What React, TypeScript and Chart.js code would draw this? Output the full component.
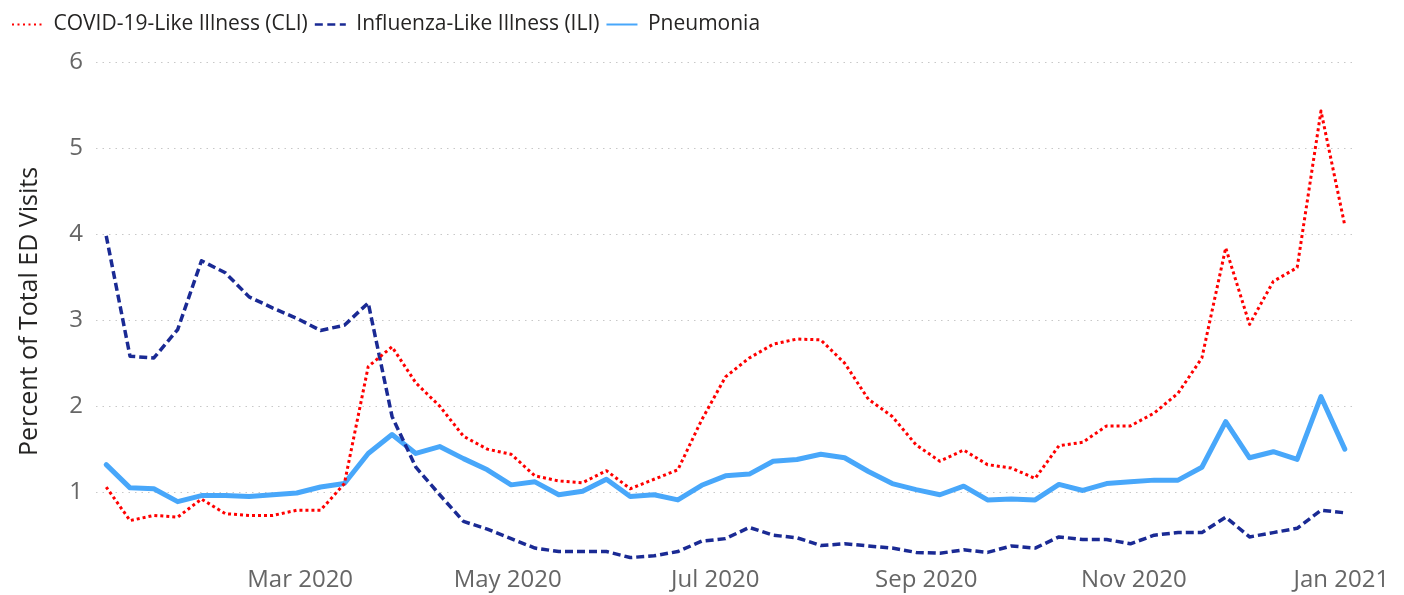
import React, { useEffect, useRef } from "react";
import { Chart, registerables } from "chart.js";

Chart.register(...registerables);

const weekEnding: string[] = [
  "2020-01-04", "2020-01-11", "2020-01-18", "2020-01-25", "2020-02-01", "2020-02-08", "2020-02-15", "2020-02-22",
  "2020-02-29", "2020-03-07", "2020-03-14", "2020-03-21", "2020-03-28", "2020-04-04", "2020-04-11", "2020-04-18",
  "2020-04-25", "2020-05-02", "2020-05-09", "2020-05-16", "2020-05-23", "2020-05-30", "2020-06-06", "2020-06-13",
  "2020-06-20", "2020-06-27", "2020-07-04", "2020-07-11", "2020-07-18", "2020-07-25", "2020-08-01", "2020-08-08",
  "2020-08-15", "2020-08-22", "2020-08-29", "2020-09-05", "2020-09-12", "2020-09-19", "2020-09-26", "2020-10-03",
  "2020-10-10", "2020-10-17", "2020-10-24", "2020-10-31", "2020-11-07", "2020-11-14", "2020-11-21", "2020-11-28",
  "2020-12-05", "2020-12-12", "2020-12-19", "2020-12-26", "2021-01-02",
];

const cliValues: number[] = [
  1.06, 0.67, 0.73, 0.71, 0.92, 0.75, 0.73, 0.73, 0.79, 0.79,
  1.10, 2.46, 2.69, 2.27, 2.00, 1.65, 1.50, 1.44, 1.19, 1.13,
  1.11, 1.25, 1.04, 1.15, 1.26, 1.84, 2.34, 2.56, 2.72, 2.78,
  2.77, 2.50, 2.08, 1.88, 1.55, 1.36, 1.49, 1.32, 1.28, 1.16,
  1.54, 1.58, 1.77, 1.77, 1.92, 2.15, 2.56, 3.84, 2.95, 3.45,
  3.61, 5.43, 4.10,
];

const iliValues: number[] = [
  3.98, 2.58, 2.56, 2.89, 3.69, 3.55, 3.27, 3.14, 3.02, 2.88,
  2.94, 3.20, 1.88, 1.29, 0.97, 0.66, 0.57, 0.46, 0.35, 0.31,
  0.31, 0.31, 0.24, 0.26, 0.31, 0.43, 0.46, 0.59, 0.50, 0.47,
  0.38, 0.40, 0.375, 0.35, 0.30, 0.29, 0.33, 0.30, 0.375, 0.35,
  0.48, 0.45, 0.45, 0.40, 0.50, 0.53, 0.53, 0.71, 0.48, 0.53,
  0.58, 0.79, 0.76,
];

const pneumoniaValues: number[] = [
  1.32, 1.05, 1.04, 0.89, 0.96, 0.96, 0.95, 0.97, 0.99, 1.06,
  1.10, 1.45, 1.67, 1.45, 1.53, 1.39, 1.26, 1.085, 1.12, 0.97,
  1.01, 1.15, 0.95, 0.97, 0.91, 1.08, 1.19, 1.21, 1.36, 1.38,
  1.44, 1.40, 1.24, 1.10, 1.03, 0.97, 1.07, 0.91, 0.92, 0.91,
  1.09, 1.02, 1.10, 1.12, 1.14, 1.14, 1.29, 1.82, 1.40, 1.47,
  1.38, 2.11, 1.50,
];

const seriesNames: string[] = ["COVID-19-Like Illness (CLI)", "Influenza-Like Illness (ILI)", "Pneumonia"];

const xTickDates: string[] = ["2020-03-01", "2020-05-01", "2020-07-01", "2020-09-01", "2020-11-01", "2021-01-01"];
const xTickLabels: string[] = ["Mar 2020", "May 2020", "Jul 2020", "Sep 2020", "Nov 2020", "Jan 2021"];
const yTickValues: number[] = [1, 2, 3, 4, 5, 6];

const DAY = 86400000;
const origin = Date.parse(weekEnding[0] + "T00:00:00Z");
const toDay = (d: string) => Math.round((Date.parse(d + "T00:00:00Z") - origin) / DAY);

const FONT = "'Open Sans', 'Noto Sans', sans-serif";

const legendGapPlugin = {
  id: "legendGap",
  afterInit(chart: any) {
    const lg = chart.legend;
    if (!lg || lg._gapPatched) return;
    const orig = lg.fit.bind(lg);
    lg.fit = function () {
      orig();
      this.height += 17;
    };
    lg._gapPatched = true;
  },
};

export default function App() {
  const ref = useRef<HTMLCanvasElement | null>(null);

  useEffect(() => {
    if (!ref.current) return;
    const mk = (vals: number[]) => vals.map((v, i) => ({ x: toDay(weekEnding[i]), y: v }));
    const legendDash = [[2, 3.5], [8, 4.5], []];
    const legendWidth = [2, 2.5, 2];

    const chart = new Chart(ref.current, {
      type: "line",
      plugins: [legendGapPlugin],
      data: {
        datasets: [
          {
            label: seriesNames[0],
            data: mk(cliValues),
            borderColor: "#FF0000",
            backgroundColor: "#FF0000",
            borderWidth: 3,
            borderDash: [3, 3],
            pointRadius: 0,
            tension: 0,
            borderJoinStyle: "round",
          },
          {
            label: seriesNames[1],
            data: mk(iliValues),
            borderColor: "#1A2A94",
            backgroundColor: "#1A2A94",
            borderWidth: 3.5,
            borderDash: [8, 4],
            pointRadius: 0,
            tension: 0,
            borderJoinStyle: "round",
          },
          {
            label: seriesNames[2],
            data: mk(pneumoniaValues),
            borderColor: "#48A7FA",
            backgroundColor: "#48A7FA",
            borderWidth: 5,
            pointRadius: 0,
            tension: 0,
            borderJoinStyle: "round",
            borderCapStyle: "round",
          },
        ],
      },
      options: {
        animation: false,
        responsive: false,
        events: [],
        layout: { padding: { left: 5, right: 49, top: 7, bottom: 0 } },
        plugins: {
          tooltip: { enabled: false },
          legend: {
            display: true,
            position: "top",
            align: "start",
            labels: {
              usePointStyle: true,
              pointStyle: "line",
              pointStyleWidth: 31,
              boxHeight: 21,
              padding: 7,
              color: "#252423",
              font: { family: FONT, size: 21 },
              generateLabels: (c: any) => {
                const items = (Chart.defaults.plugins.legend.labels as any).generateLabels(c);
                return items.map((it: any, i: number) => ({
                  ...it,
                  pointStyle: "line",
                  lineWidth: legendWidth[i],
                  lineDash: legendDash[i],
                  lineCap: "butt",
                  fontColor: "#252423",
                }));
              },
            },
          },
        },
        scales: {
          x: {
            type: "linear",
            min: -3,
            max: 367,
            grid: { display: false, drawTicks: false },
            border: { display: false },
            afterBuildTicks: (scale: any) => {
              scale.ticks = xTickDates.map((d) => ({ value: toDay(d) }));
            },
            afterFit: (scale: any) => {
              scale.height = 34;
            },
            ticks: {
              autoSkip: false,
              maxRotation: 0,
              padding: 5,
              color: "#666666",
              font: { family: FONT, size: 24 },
              callback: (_v: any, i: number) => xTickLabels[i],
            },
          },
          y: {
            type: "linear",
            min: 0.2,
            max: 6,
            grid: { color: "#C8C8C8", lineWidth: 1, drawTicks: false },
            border: { display: false, dash: [1.5, 5] },
            afterBuildTicks: (scale: any) => {
              scale.ticks = yTickValues.map((v) => ({ value: v }));
            },
            afterFit: (scale: any) => {
              scale.width = 91;
            },
            ticks: {
              padding: 13,
              color: "#666666",
              font: { family: FONT, size: 24 },
              callback: (v: any) => String(v),
            },
            title: {
              display: true,
              text: "Percent of Total ED Visits",
              color: "#252423",
              font: { family: FONT, size: 25 },
              padding: { top: 10, bottom: 0 },
            },
          },
        },
      },
    } as any);

    return () => chart.destroy();
  }, []);

  return (
    <div style={{ position: "fixed", left: 0, top: 0, width: 1404, height: 595, background: "#fff" }}>
      <canvas ref={ref} width={1404} height={595} style={{ display: "block", width: 1404, height: 595 }} />
    </div>
  );
}
